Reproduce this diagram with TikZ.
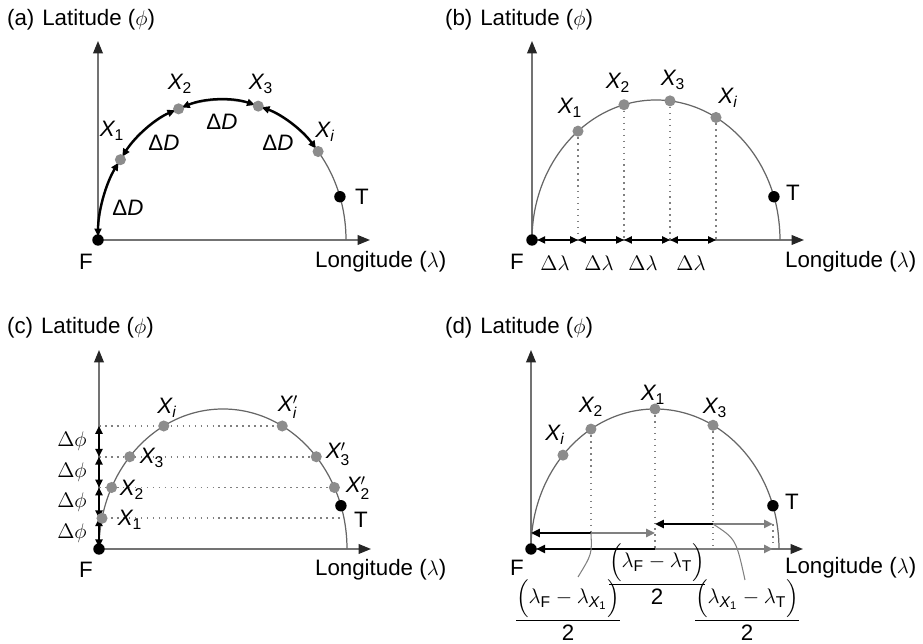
\documentclass[tikz,border=0pt]{standalone}
\usepackage{amsmath}
\usepackage{fontspec}
\setmainfont{Liberation Sans}
\usetikzlibrary{arrows.meta,calc}

\newcommand{\pX}[1]{$\mathit{X}_{\mathrm{#1}}$}
\newcommand{\pXp}[1]{$\mathit{X}'_{\mathrm{#1}}$}
\newcommand{\dD}{Δ\textit{D}}

\begin{document}
\begin{tikzpicture}[
    every node/.style={font=\fontsize{12.7}{15}\selectfont, inner sep=1pt},
    axis/.style={draw=black!55, line width=0.8pt, -{Triangle[length=7pt,width=5.5pt,color=black!85]}},
    track/.style={draw=black!60, line width=0.7pt},
    gap/.style={black, line width=1.3pt, {Triangle[length=4.5pt,width=4pt]}-{Triangle[length=4.5pt,width=4pt]}},
    half/.style={line width=1.3pt},
    proj/.style={black!50, line width=0.9pt, dash pattern=on 0.9pt off 2.5pt},
    lead/.style={draw=black!50, line width=0.6pt},
    frac/.style={inner sep=0pt},
    ptdot/.style={circle, fill=black!45, inner sep=0pt, minimum size=6.3pt},
    enddot/.style={circle, fill=black, inner sep=0pt, minimum size=6.5pt}]
  \useasboundingbox (0,0) rectangle (18.46,12.88);

  % (a)
  \begin{scope}[shift={(1.96,8.08)}]
    \coordinate (aF) at (0,0);
    \coordinate (ac) at (2.48,0);
    \draw[axis] (aF) -- (0,3.98);
    \draw[axis] (aF) -- (5.44,0);
    \draw[track] (aF) arc[start angle=180,end angle=0,x radius=2.48,y radius=2.8];
    \foreach \s/\e in {180/145,145/110.5,110.5/73,73/39.2}
      \draw[gap, shorten <=2pt, shorten >=2pt] ($(ac)+(\s:2.48 and 2.8)$)
        arc[start angle=\s,end angle=\e,x radius=2.48,y radius=2.8];
    \foreach \n/\t in {x1/145,x2/110.5,x3/73,xi/39.2}
      \node[ptdot] (a\n) at ($(ac)+(\t:2.48 and 2.8)$) {};
    \node[enddot] (at) at ($(ac)+(18:2.48 and 2.8)$) {};
    \node[enddot] (af) at (aF) {};
    \node (alx1) at (0.28,2.18) {\pX{1}};
    \node (alx2) at (1.64,3.12) {\pX{2}};
    \node (alx3) at (3.26,3.12) {\pX{3}};
    \node (alxi) at (4.54,2.16) {\pX{\mathit{i}}};
    \node (ad1) at (0.6,0.64) {\dD};
    \node (ad2) at (1.32,1.94) {\dD};
    \node (ad3) at (2.48,2.36) {\dD};
    \node (ad4) at (3.6,1.94) {\dD};
    \node (alt) at (5.28,0.86) {T};
    \node (alf) at (-0.24,-0.44) {F};
    \node[anchor=west] (alon) at (4.3,-0.44) {Longitude ($\lambda$)};
    \node[anchor=west] (alat) at (-1.86,4.4) {(a)\hspace{1pt} Latitude ($\phi$)};
  \end{scope}

  % (b)
  \begin{scope}[shift={(10.64,8.08)}]
    \coordinate (bF) at (0,0);
    \draw[axis] (bF) -- (0,3.98);
    \draw[axis] (bF) -- (5.44,0);
    \draw[track] (bF) arc[start angle=180,end angle=0,x radius=2.48,y radius=2.8];
    \foreach \k in {1,...,4}
      \coordinate (bx\k) at ({0.92*\k},{2.8*sqrt(1-(0.92*\k/2.48-1)^2)});
    \foreach \k in {1,...,4}
      \draw[proj] (bx\k) -- (bx\k |- bF);
    \draw[gap, shorten <=3pt] (bF) -- (bx1 |- bF);
    \foreach \j/\k in {1/2,2/3,3/4}
      \draw[gap] (bx\j |- bF) -- (bx\k |- bF);
    \foreach \k in {1,...,4}
      \node[ptdot] (b\k) at (bx\k) {};
    \node[enddot] (bt) at ($(2.48,0)+(18:2.48 and 2.8)$) {};
    \node[enddot] (bf) at (bF) {};
    \node (blx1) at (0.76,2.64) {\pX{1}};
    \node (blx2) at (1.72,3.14) {\pX{2}};
    \node (blx3) at (2.82,3.2) {\pX{3}};
    \node (blxi) at (3.92,2.84) {\pX{\mathit{i}}};
    \node (bd1) at (0.46,-0.46) {$\Delta\lambda$};
    \node (bd2) at (1.34,-0.46) {$\Delta\lambda$};
    \node (bd3) at (2.22,-0.46) {$\Delta\lambda$};
    \node (bd4) at (3.18,-0.46) {$\Delta\lambda$};
    \node (blt) at (5.22,0.94) {T};
    \node (blf) at (-0.3,-0.44) {F};
    \node[anchor=west] (blon) at (5.02,-0.44) {Longitude ($\lambda$)};
    \node[anchor=west] (blat) at (-1.78,4.4) {(b)\hspace{1pt} Latitude ($\phi$)};
  \end{scope}

  % (c)
  \begin{scope}[shift={(1.98,1.9)}]
    \coordinate (cF) at (0,0);
    \draw[axis] (cF) -- (0,3.98);
    \draw[axis] (cF) -- (5.44,0);
    \foreach \k in {1,...,4} {
      \pgfmathsetmacro{\yy}{0.615*\k}
      \pgfmathsetmacro{\dx}{2.48*sqrt(1-(\yy/2.8)^2)}
      \coordinate (cl\k) at ({2.48-\dx},\yy);
      \coordinate (cr\k) at ({2.48+\dx},\yy);
      \draw[proj] (cl\k -| cF) -- (cr\k);
    }
    \draw[track] (cF) arc[start angle=180,end angle=0,x radius=2.48,y radius=2.8];
    \draw[gap, shorten <=1pt] (cF) -- (cl1 -| cF);
    \foreach \j/\k in {1/2,2/3,3/4}
      \draw[gap] (cl\j -| cF) -- (cl\k -| cF);
    \foreach \k in {1,...,4}
      \node[ptdot] (c\k) at (cl\k) {};
    \foreach \k in {2,3,4}
      \node[ptdot] (c\k p) at (cr\k) {};
    \node[enddot] (ct) at ($(2.48,0)+(18:2.48 and 2.8)$) {};
    \node[enddot] (cf) at (cF) {};
    \node (clxi) at (1.36,2.82) {\pX{\mathit{i}}};
    \node (clxip) at (3.78,2.84) {\pXp{\mathit{i}}};
    \node (clx3) at (1.06,1.82) {\pX{3}};
    \node (clx3p) at (4.78,1.9) {\pXp{3}};
    \node (clx2) at (0.66,1.18) {\pX{2}};
    \node (clx2p) at (5.18,1.22) {\pXp{2}};
    \node (clx1) at (0.62,0.58) {\pX{1}};
    \foreach \k in {1,...,4}
      \node (cd\k) at (-0.54,{0.615*\k-0.3}) {$\Delta\phi$};
    \node (clt) at (5.24,0.58) {T};
    \node (clf) at (-0.26,-0.42) {F};
    \node[anchor=west] (clon) at (4.28,-0.42) {Longitude ($\lambda$)};
    \node[anchor=west] (clat) at (-1.88,4.42) {(c)\hspace{1pt} Latitude ($\phi$)};
  \end{scope}

  % (d)
  \begin{scope}[shift={(10.62,1.9)}]
    \coordinate (dF) at (0,0);
    \coordinate (dc) at (2.48,0);
    \coordinate (dlo) at (0,0.32);
    \coordinate (dhi) at (0,0.5);
    \foreach \n/\t in {x1/90,x2/121.1,xi/137.9,x3/62.1,t/18}
      \coordinate (d\n) at ($(dc)+(\t:2.48 and 2.8)$);
    \draw[proj] (dx2) -- (dx2 |- dlo);
    \draw[proj] (dx1) -- (dx1 |- dF);
    \draw[proj] (dx3) -- (dx3 |- dF);
    \draw[proj] (dt |- dhi) -- (dt |- dF);
    \draw[axis] (dF) -- (0,3.98);
    \draw[axis] (dF) -- (5.44,0);
    \draw[track] (dF) arc[start angle=180,end angle=0,x radius=2.48,y radius=2.8];
    \draw[half, black, {Triangle[length=5pt,width=4.5pt]}-] (dF |- dlo) -- (dx2 |- dlo);
    \draw[half, black!50, -{Triangle[length=5pt,width=4.5pt]}] (dx2 |- dlo) -- (dx1 |- dlo);
    \draw[half, black, -{Triangle[length=5pt,width=4.5pt]}] (dx3 |- dhi) -- (dx1 |- dhi);
    \draw[half, black!50, -{Triangle[length=5pt,width=4.5pt]}] (dx3 |- dhi) -- (dt |- dhi);
    \draw[half, black, -{Triangle[length=5pt,width=4.5pt]}, shorten >=3pt] (dx1 |- dF) -- (dF);
    \draw[half, black!50, -{Triangle[length=5pt,width=4.5pt]}] (dx1 |- dF) -- (dt |- dF);
    \coordinate (dll) at (0.94,-0.56);
    \coordinate (dlr) at (4.28,-0.62);
    \draw[lead] (dx2 |- dlo) .. controls (1.22,-0.1) .. (dll);
    \draw[lead] (dx3 |- dhi) .. controls (4.1,0.2) .. (dlr);
    \foreach \n in {x1,x2,xi,x3}
      \node[ptdot] (d\n n) at (d\n) {};
    \node[enddot] (dtn) at (dt) {};
    \node[enddot] (dfn) at (dF) {};
    \node (dlx1) at (2.44,3.08) {\pX{1}};
    \node (dlx2) at (1.2,2.84) {\pX{2}};
    \node (dlxi) at (0.48,2.28) {\pX{\mathit{i}}};
    \node (dlx3) at (3.68,2.82) {\pX{3}};
    \node (dlt) at (5.22,0.94) {T};
    \node (dlf) at (-0.28,-0.38) {F};
    \node[anchor=west] (dlon) at (5.04,-0.38) {Longitude ($\lambda$)};
    \node[anchor=west] (dlat) at (-1.76,4.42) {(d)\hspace{1pt} Latitude ($\phi$)};
    \node[frac] (dfl) at (0.74,-1.22) {$\dfrac{\Bigl(\lambda_{\mathrm{F}}-\lambda_{\mathit{X}_{\mathrm{1}}}\Bigr)}{\mathrm{2}}$};
    \node[frac] (dfm) at (2.52,-0.5) {$\dfrac{\Bigl(\lambda_{\mathrm{F}}-\lambda_{\mathrm{T}}\Bigr)}{\mathrm{2}}$};
    \node[frac] (dfr) at (4.32,-1.22) {$\dfrac{\Bigl(\lambda_{\mathit{X}_{\mathrm{1}}}-\lambda_{\mathrm{T}}\Bigr)}{\mathrm{2}}$};
  \end{scope}
\end{tikzpicture}
\end{document}
